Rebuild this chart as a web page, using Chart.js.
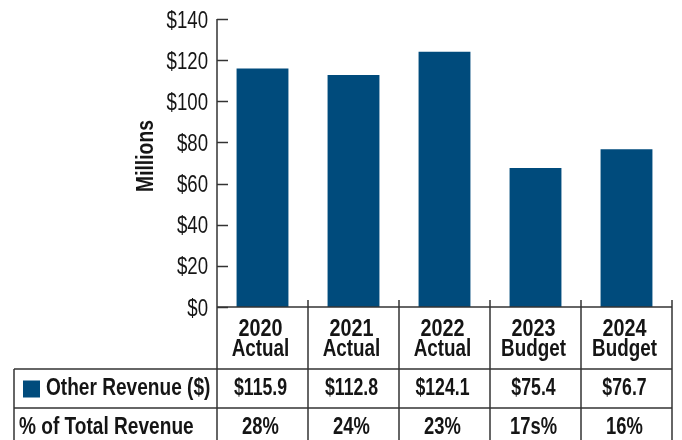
<!DOCTYPE html>
<html>
<head>
<meta charset="utf-8">
<script src="https://cdn.jsdelivr.net/npm/chart.js@4"></script>
<style>
  html, body { margin: 0; padding: 0; background: #fff; }
  canvas { display: block; }
</style>
</head>
<body>
<canvas id="grafico" width="682" height="440"></canvas>
<script>
// Datos del gráfico
const categorias = [["2020", "Actual"], ["2021", "Actual"], ["2022", "Actual"], ["2023", "Budget"], ["2024", "Budget"]];
const valoresBarras = [115.9, 112.8, 124.1, 67.6, 76.7];
const etiquetasIngreso = ["$115.9", "$112.8", "$124.1", "$75.4", "$76.7"];
const etiquetasPorcentaje = ["28%", "24%", "23%", "17s%", "16%"];
const filaIngreso = "Other Revenue ($)";
const filaPorcentaje = "% of Total Revenue";
const tituloY = "Millions";
const yMin = 0;
const yMax = 140;
const yPaso = 20;

const fuente = "'Liberation Sans', Arial, sans-serif";
const azul = "#004b7c";
const linea = "#333";
const texto = "#151515";
const estrecho = 0.82; // compresión horizontal del texto (fuente condensada)

// Escribe texto comprimido horizontalmente
const textoEstrecho = (ctx, txt, x, y, align, font, sx = estrecho) => {
  ctx.save();
  ctx.translate(x, y);
  ctx.scale(sx, 1);
  ctx.font = font;
  ctx.textAlign = align;
  ctx.textBaseline = "alphabetic";
  ctx.fillText(txt, 0, 0);
  ctx.restore();
};

// Plugin para dibujar la tabla de datos, etiquetas y marcas del eje
const tablaPlugin = {
  id: "tabla",
  afterDraw(chart) {
    const { ctx, chartArea, scales } = chart;
    const x = scales.x;
    const y = scales.y;
    const ancho = (chartArea.right - chartArea.left) / categorias.length;
    const filaTop = x.bottom;          // inicio de la fila "Other Revenue"
    const filaMedio = filaTop + 39;    // línea entre filas
    const fondo = chart.height;
    const negrita = "bold 23px " + fuente;

    ctx.save();
    ctx.strokeStyle = linea;
    ctx.lineWidth = 1.5;

    // marcas del eje Y hacia adentro
    y.ticks.forEach((t) => {
      const py = Math.round(y.getPixelForValue(t.value)) + 0.5;
      ctx.beginPath();
      ctx.moveTo(chartArea.left, py);
      ctx.lineTo(chartArea.left + 11, py);
      ctx.stroke();
    });

    // eje Y extendido hasta abajo
    ctx.beginPath();
    ctx.moveTo(chartArea.left, chartArea.top);
    ctx.lineTo(chartArea.left, fondo);
    ctx.stroke();

    // eje X
    ctx.beginPath();
    ctx.moveTo(chartArea.left, chartArea.bottom);
    ctx.lineTo(chartArea.right, chartArea.bottom);
    ctx.stroke();

    // divisiones verticales entre categorías
    for (let i = 1; i <= categorias.length; i++) {
      const px = chartArea.left + i * ancho;
      ctx.beginPath();
      ctx.moveTo(px, chartArea.bottom - 7);
      ctx.lineTo(px, fondo);
      ctx.stroke();
    }

    // líneas horizontales de la tabla
    const izquierda = 14;
    [filaTop, filaMedio].forEach((py) => {
      ctx.beginPath();
      ctx.moveTo(izquierda, py);
      ctx.lineTo(chartArea.right, py);
      ctx.stroke();
    });
    ctx.beginPath();
    ctx.moveTo(izquierda, filaTop);
    ctx.lineTo(izquierda, fondo);
    ctx.stroke();

    // cuadro de leyenda
    const centro1 = (filaTop + filaMedio) / 2;
    ctx.fillStyle = azul;
    ctx.fillRect(23, centro1 - 8, 17, 17);

    ctx.fillStyle = texto;

    // etiquetas del eje Y
    y.ticks.forEach((t) => {
      const py = y.getPixelForValue(t.value);
      textoEstrecho(ctx, "$" + t.value, chartArea.left - 9, py + 8.5, "right", "23px " + fuente, 0.81);
    });

    // título del eje Y
    ctx.save();
    ctx.translate(153, (chartArea.top + chartArea.bottom) / 2 - 7);
    ctx.rotate(-Math.PI / 2);
    textoEstrecho(ctx, tituloY, 0, 0, "center", negrita, 0.84);
    ctx.restore();

    // categorías del eje X
    for (let i = 0; i < categorias.length; i++) {
      const px = x.getPixelForValue(i) - 2;
      textoEstrecho(ctx, categorias[i][0], px, x.top + 29, "center", negrita, 0.86);
      textoEstrecho(ctx, categorias[i][1], px, x.top + 49, "center", negrita);
    }

    // filas de la tabla
    textoEstrecho(ctx, filaIngreso, 46, filaTop + 26, "left", negrita, 0.83);
    textoEstrecho(ctx, filaPorcentaje, 19, filaMedio + 26, "left", negrita, 0.83);
    for (let i = 0; i < categorias.length; i++) {
      const px = x.getPixelForValue(i) - 2;
      textoEstrecho(ctx, etiquetasIngreso[i], px, filaTop + 26, "center", negrita, 0.77);
      textoEstrecho(ctx, etiquetasPorcentaje[i], px, filaMedio + 26, "center", negrita, 0.8);
    }
    ctx.restore();
  },
};

const ctx = document.getElementById("grafico");

new Chart(ctx, {
  type: "bar",
  data: {
    labels: categorias,
    datasets: [
      {
        label: filaIngreso,
        data: valoresBarras,
        backgroundColor: azul,
        barPercentage: 0.57,
        categoryPercentage: 1,
      },
    ],
  },
  options: {
    responsive: false,
    devicePixelRatio: 1,
    animation: false,
    layout: {
      padding: { top: 19, right: 10, bottom: 71, left: 0 },
    },
    plugins: {
      legend: { display: false },
      tooltip: { enabled: false },
    },
    scales: {
      x: {
        grid: { display: false, drawTicks: false },
        border: { display: false },
        ticks: { display: false },
        afterFit: (scale) => {
          scale.height = 62;
        },
      },
      y: {
        min: yMin,
        max: yMax,
        grid: { display: false, drawTicks: false },
        border: { display: false },
        ticks: { display: false, stepSize: yPaso },
        afterFit: (scale) => {
          scale.width = 217;
        },
      },
    },
  },
  plugins: [tablaPlugin],
});
</script>
</body>
</html>
